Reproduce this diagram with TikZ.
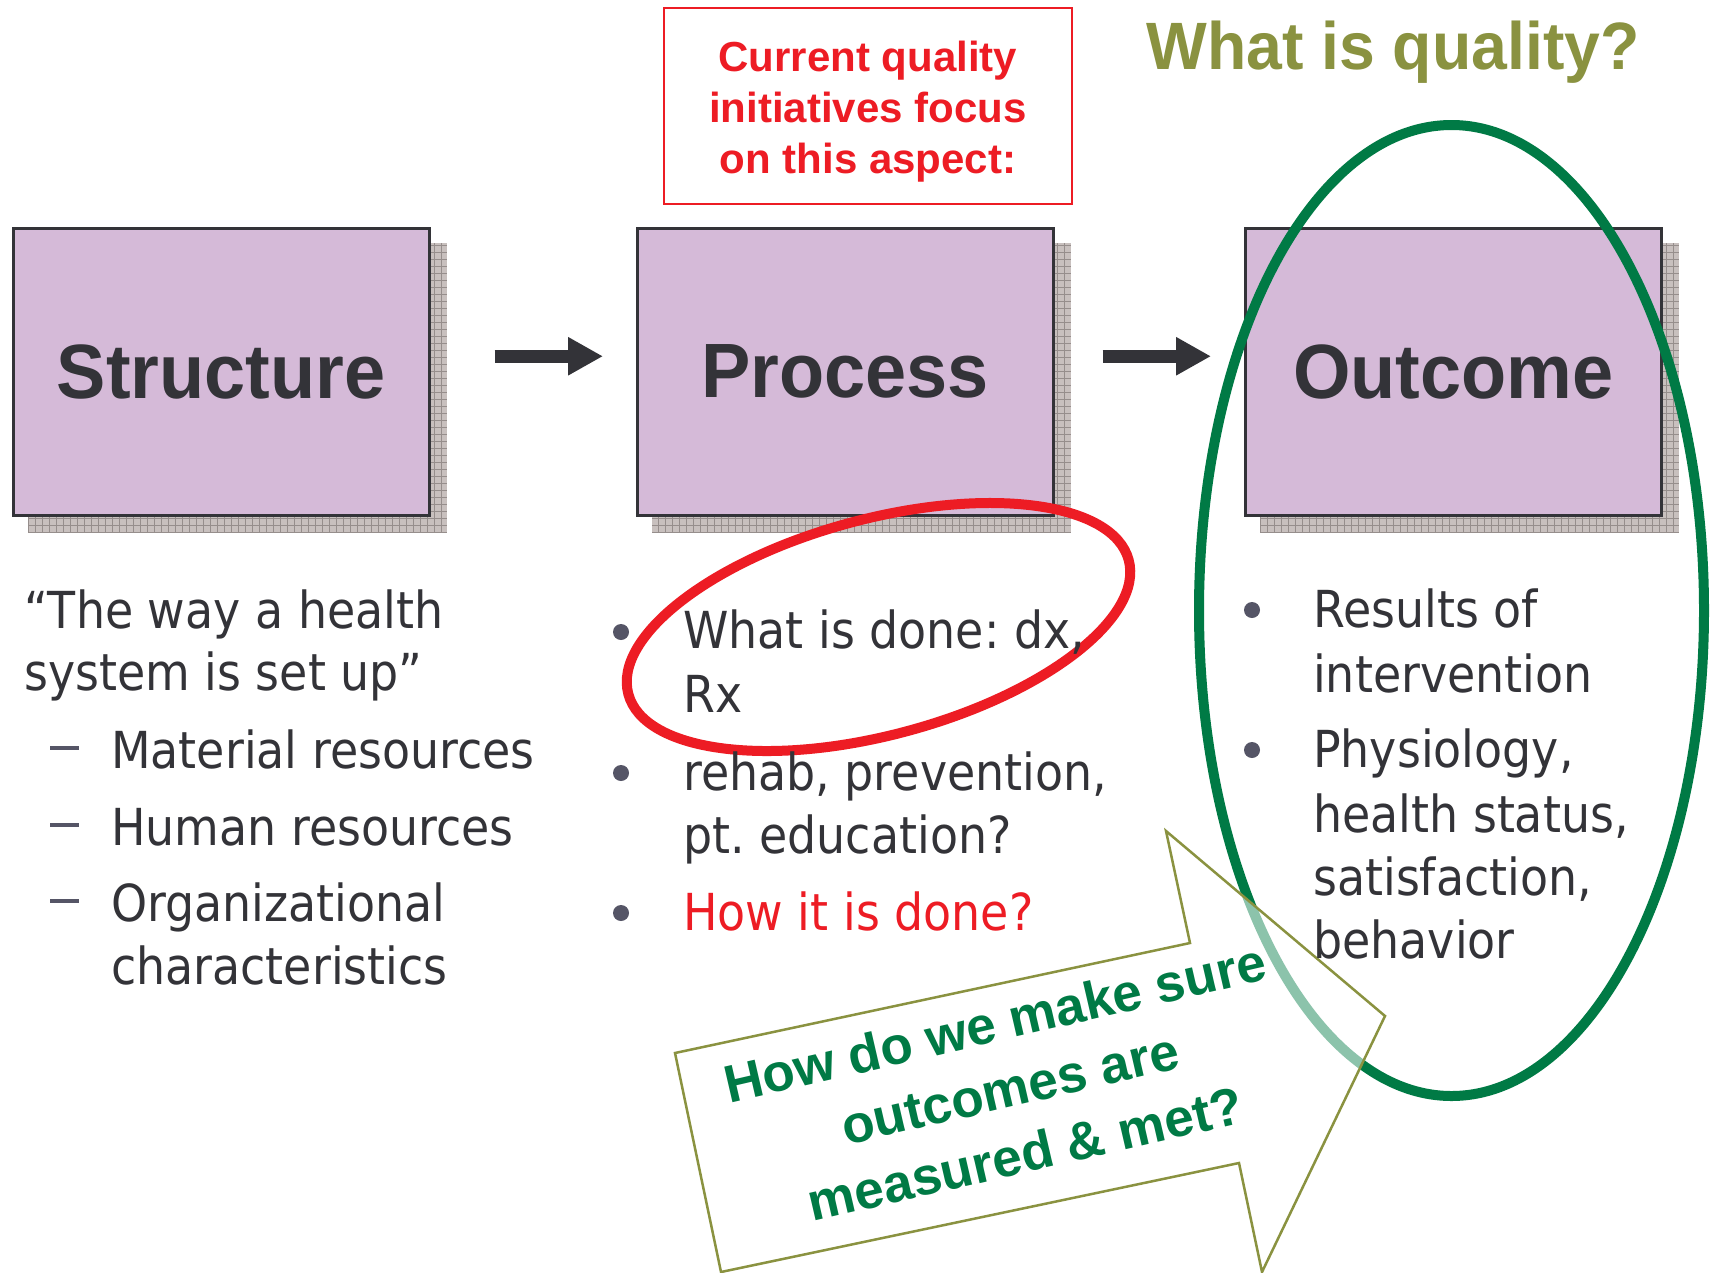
\documentclass[tikz,border=0pt]{standalone}
\usepackage{fontspec}
\setmainfont{DejaVu Sans}[FakeStretch=0.9]
\newfontfamily\headfont{Liberation Sans}[FakeStretch=0.96]
\newfontfamily\plainbold{Liberation Sans}
\usetikzlibrary{arrows.meta,calc}
\pgfdeclarelayer{back}
\pgfsetlayers{back,main}
\frenchspacing

\definecolor{ink}{RGB}{51,51,56}
\definecolor{lav}{RGB}{213,186,216}
\definecolor{shadowbase}{RGB}{200,192,190}
\definecolor{shadowline}{RGB}{150,142,140}
\definecolor{qred}{RGB}{237,28,36}
\definecolor{olive}{RGB}{138,146,64}
\definecolor{qgreen}{RGB}{0,122,69}
\definecolor{dotc}{RGB}{85,85,102}

\tikzset{
  stage/.style={draw=ink, line width=2.5pt, fill=lav, minimum width=416pt,
    minimum height=287pt, inner sep=0pt, anchor=north west, text=ink,
    font=\headfont\bfseries\fontsize{77}{92}\selectfont},
  flow/.style={draw=ink, line width=13pt, -{Triangle[length=35pt,width=36pt]}},
  body/.style={anchor=base west, inner sep=0pt, text=ink,
    font=\fontsize{51}{63}\selectfont},
  dot/.style={circle, fill=dotc, minimum size=16pt, inner sep=0pt},
  dashmark/.style={draw=dotc, line width=3.5pt},
}

% hatched drop shadow behind a stage box
\newcommand\stageshadow[1]{%
  \begin{pgfonlayer}{back}
    \fill[shadowbase] ($(#1.south west)+(16,16)$) rectangle ($(#1.north east)+(16,16)$);
    \draw[shadowline, line width=0.8pt, step=7pt]
      ($(#1.south west)+(16,16)$) grid ($(#1.north east)+(16,16)$);
  \end{pgfonlayer}}

\begin{document}
\begin{tikzpicture}[x=1pt,y=-1pt]
\useasboundingbox (0,0) rectangle (1718,1272);
\begin{pgfonlayer}{back}
  \fill[white] (0,0) rectangle (1718,1272);
\end{pgfonlayer}

% the three stages
\node[stage] (S) at (12,227) {Structure};
\node[stage] (P) at (636,227) {Process};
\node[stage] (O) at (1244,227) {Outcome};
\stageshadow{S}
\stageshadow{P}
\stageshadow{O}

\draw[flow] ($(S.east)+(64,-15.5)$) -- ($(P.west)+(-33,-15.5)$);
\draw[flow] ($(P.east)+(48,-15.5)$) -- ($(O.west)+(-33,-15.5)$);

% note above the process box
\node[draw=qred, line width=2.5pt, minimum width=408pt, minimum height=196pt,
      inner sep=0pt] (focus) at (868,106) {};
\node[text=qred, font=\plainbold\bfseries\fontsize{42}{51}\selectfont,
      align=center, inner sep=0pt] (focustext) at (868,112)
  {Current quality\\initiatives focus\\on this aspect:};

\node[anchor=base, text=olive, inner sep=0pt,
      font=\headfont\bfseries\fontsize{67}{80}\selectfont] (title) at (1393,69)
  {What is quality?};

% highlight rings
\draw[qgreen, line width=10pt] (1451.5,610.5) ellipse [x radius=252.5pt, y radius=485.5pt];
\draw[qred, line width=10pt, rotate around={15:(878.5,627)}]
  (878.5,627) ellipse [x radius=259pt, y radius=108pt];

% block arrow with the question
\draw[olive, line width=2.5pt, fill=white, fill opacity=0.55]
  (675,1053) -- (1190,943) -- (1166,831) -- (1385,1016) -- (1262,1272)
  -- (1239,1163) -- (721,1272) -- cycle;

% structure column
\node[body] (l1) at (24,628) {“The way a health};
\node[body] (l2) at (24,690) {system is set up”};
\draw[dashmark] (50,748) -- (79,748);
\node[body] (l3) at (111,768) {Material resources};
\draw[dashmark] (50,825) -- (79,825);
\node[body] (l4) at (111,845) {Human resources};
\draw[dashmark] (50,901) -- (79,901);
\node[body] (l5) at (111,921) {Organizational};
\node[body] (l6) at (111,984) {characteristics};

% process column
\node[dot] (pb1) at (621,632) {};
\node[body] (m1) at (683,648) {What is done: dx,};
\node[body] (m2) at (683,712) {Rx};
\node[dot] (pb2) at (621,773) {};
\node[body] (m3) at (683,790) {rehab, prevention,};
\node[body] (m4) at (683,853) {pt. education?};
\node[dot] (pb3) at (621,913) {};
\node[body, text=qred] (m5) at (683,930) {How it is done?};

% outcome column
\node[dot] (ob1) at (1252,610) {};
\node[body] (r1) at (1313,627) {Results of};
\node[body] (r2) at (1313,692) {intervention};
\node[dot] (ob2) at (1252,750) {};
\node[body] (r3) at (1313,767) {Physiology,};
\node[body] (r4) at (1313,832) {health status,};
\node[body] (r5) at (1313,895) {satisfaction,};
\node[body] (r6) at (1313,958) {behavior};

\node[rotate=13, text=qgreen, align=center, inner sep=0pt,
      font=\plainbold\bfseries\fontsize{53}{67}\selectfont] (ask) at (1010,1088)
  {How do we make sure\\outcomes are\\measured \& met?};
\end{tikzpicture}
\end{document}
